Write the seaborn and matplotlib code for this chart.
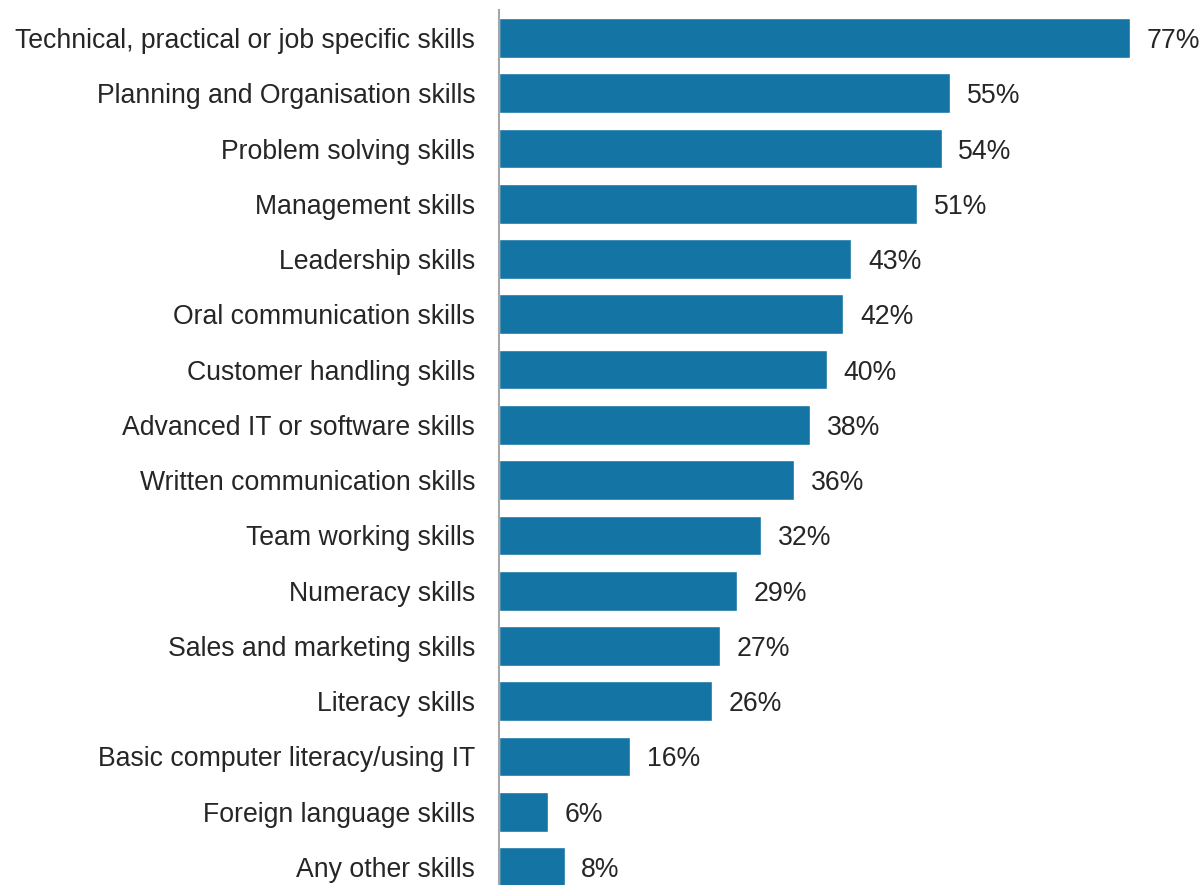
import matplotlib
matplotlib.use("Agg")
import matplotlib.pyplot as plt
import seaborn as sns
import pandas as pd

skills = [
    "Technical, practical or job specific skills",
    "Planning and Organisation skills",
    "Problem solving skills",
    "Management skills",
    "Leadership skills",
    "Oral communication skills",
    "Customer handling skills",
    "Advanced IT or software skills",
    "Written communication skills",
    "Team working skills",
    "Numeracy skills",
    "Sales and marketing skills",
    "Literacy skills",
    "Basic computer literacy/using IT",
    "Foreign language skills",
    "Any other skills",
]
shares = [77, 55, 54, 51, 43, 42, 40, 38, 36, 32, 29, 27, 26, 16, 6, 8]

df = pd.DataFrame({"skill": skills, "share": shares})

sns.set_theme(style="white")
plt.rcParams["font.family"] = ["Liberation Sans", "DejaVu Sans"]

fig = plt.figure(figsize=(12, 8.85), dpi=100)
ax = fig.add_axes([0.4158, 0.0, 0.5759, 0.9887])

sns.barplot(data=df, x="share", y="skill", orient="h", color="#1474A4",
            saturation=1, width=0.72, ax=ax)

ax.set_xlim(0, 84.3)
ax.set_ylim(15.325, -0.506)
ax.set_xlabel("")
ax.set_ylabel("")
ax.set_xticks([])
ax.tick_params(axis="y", length=0, pad=17, labelsize=19.2, labelcolor="#262626")
for lbl in ax.get_yticklabels():
    lbl.set_verticalalignment("center_baseline")

for side in ["top", "right", "bottom"]:
    ax.spines[side].set_visible(False)
ax.spines["left"].set_color("#A6A6A6")
ax.spines["left"].set_linewidth(1.5)

for container in ax.containers:
    texts = ax.bar_label(container, labels=[f"{v}%" for v in shares], padding=12,
                         fontsize=19.2, color="#262626")
    for t in texts:
        t.set_verticalalignment("center_baseline")

fig.savefig("out.png", dpi=100)
